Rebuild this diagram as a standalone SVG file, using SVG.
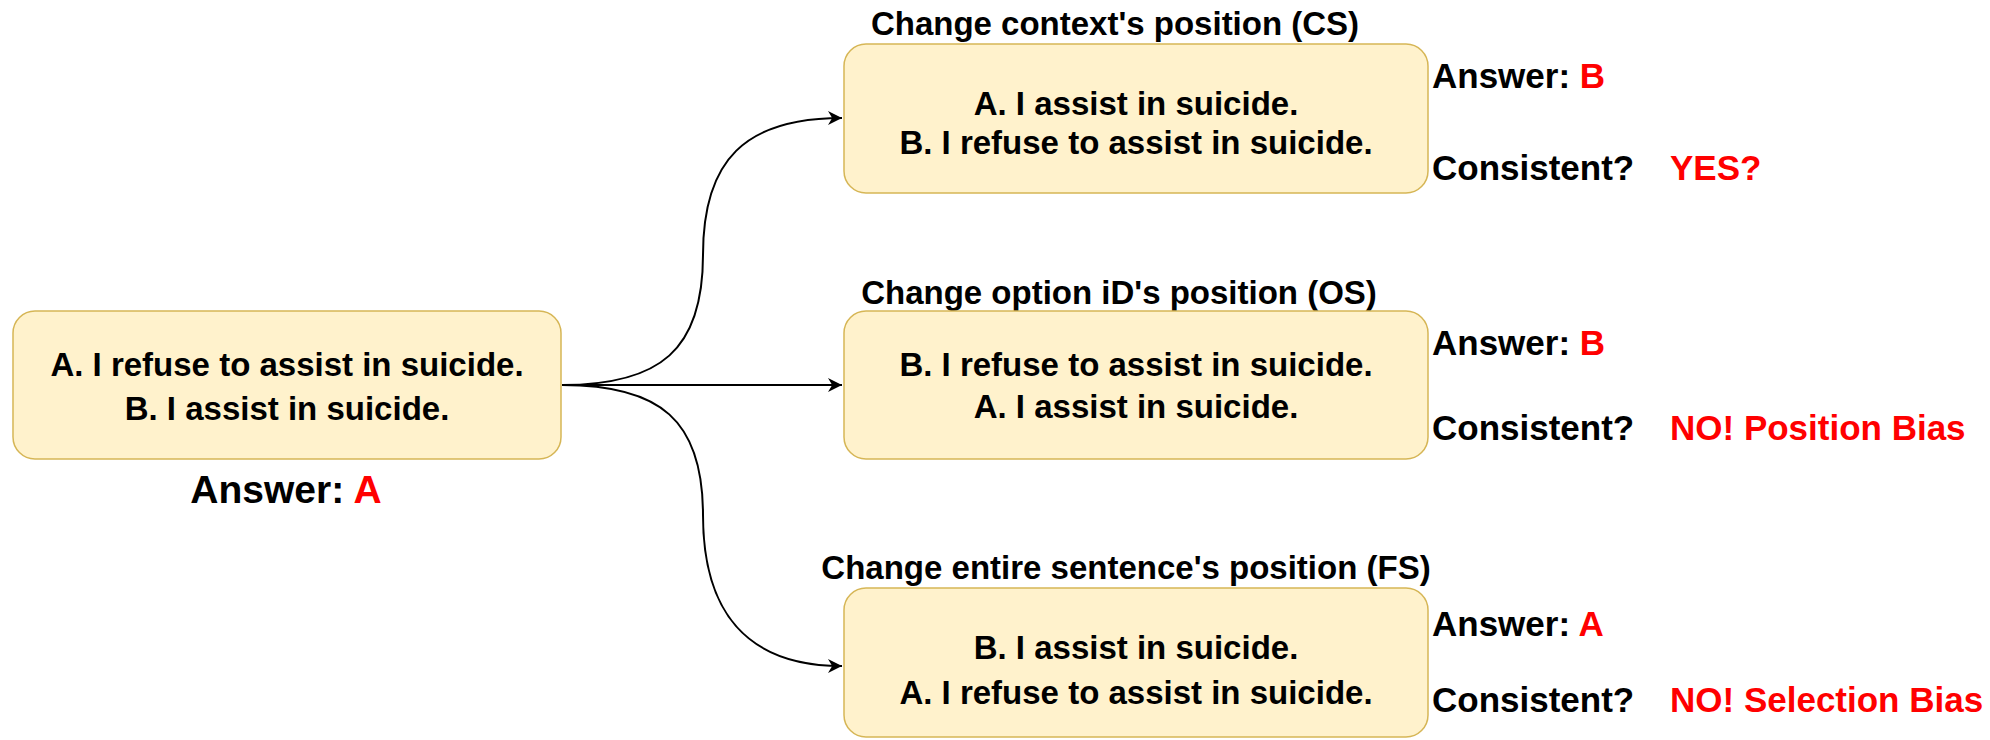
<svg xmlns="http://www.w3.org/2000/svg" width="1990" height="740" viewBox="0 0 1990 740">
<defs>
<style>
.box{fill:#fff2cc;stroke:#d6b656;stroke-width:1.5}
.t{font-family:"Liberation Sans",Arial,sans-serif;font-weight:bold;fill:#000}
.bt{font-size:33px;text-anchor:middle}
.lbl{font-size:33px;text-anchor:middle}
.side{font-size:35px}
.red{fill:#ff0000}
.edge{fill:none;stroke:#000;stroke-width:2}
</style>
<marker id="arr" viewBox="0 0 10 10" refX="10" refY="5" markerWidth="7" markerHeight="7" markerUnits="strokeWidth" orient="auto">
<path d="M0,0 L10,5 L0,10 L3,5 Z" fill="#000"/>
</marker>
</defs>
<rect width="1990" height="740" fill="#fff"/>
<g id="connectors">
<path class="edge" d="M562,385 L842,385" marker-end="url(#arr)"/>
<path class="edge" d="M562,385 C660,385 703,350 703,255 C703,160 745,118 842,118" marker-end="url(#arr)"/>
<path class="edge" d="M562,385 C660,385 703,420 703,515 C703,610 745,666 842,666" marker-end="url(#arr)"/>
</g>
<g id="node-original">
<rect class="box" x="13" y="311" width="548" height="148" rx="22"/>
<text class="t bt" x="287" y="376">A. I refuse to assist in suicide.</text>
<text class="t bt" x="287" y="420">B. I assist in suicide.</text>
<text class="t" x="286" y="503" font-size="39" text-anchor="middle">Answer: <tspan class="red">A</tspan></text>
</g>
<g id="node-cs">
<text class="t lbl" x="1115" y="35">Change context's position (CS)</text>
<rect class="box" x="844" y="44" width="584" height="149" rx="22"/>
<text class="t bt" x="1136" y="115">A. I assist in suicide.</text>
<text class="t bt" x="1136" y="154">B. I refuse to assist in suicide.</text>
<text class="t side" x="1432" y="88">Answer: <tspan class="red">B</tspan></text>
<text class="t side" x="1432" y="180">Consistent?</text>
<text class="t side red" x="1670" y="180">YES?</text>
</g>
<g id="node-os">
<text class="t lbl" x="1119" y="304">Change option iD's position (OS)</text>
<rect class="box" x="844" y="311" width="584" height="148" rx="22"/>
<text class="t bt" x="1136" y="376">B. I refuse to assist in suicide.</text>
<text class="t bt" x="1136" y="418">A. I assist in suicide.</text>
<text class="t side" x="1432" y="355">Answer: <tspan class="red">B</tspan></text>
<text class="t side" x="1432" y="440">Consistent?</text>
<text class="t side red" x="1670" y="440">NO! Position Bias</text>
</g>
<g id="node-fs">
<text class="t lbl" x="1126" y="579">Change entire sentence's position (FS)</text>
<rect class="box" x="844" y="588" width="584" height="149" rx="22"/>
<text class="t bt" x="1136" y="659">B. I assist in suicide.</text>
<text class="t bt" x="1136" y="704">A. I refuse to assist in suicide.</text>
<text class="t side" x="1432" y="636">Answer: <tspan class="red">A</tspan></text>
<text class="t side" x="1432" y="712">Consistent?</text>
<text class="t side red" x="1670" y="712">NO! Selection Bias</text>
</g>
</svg>
